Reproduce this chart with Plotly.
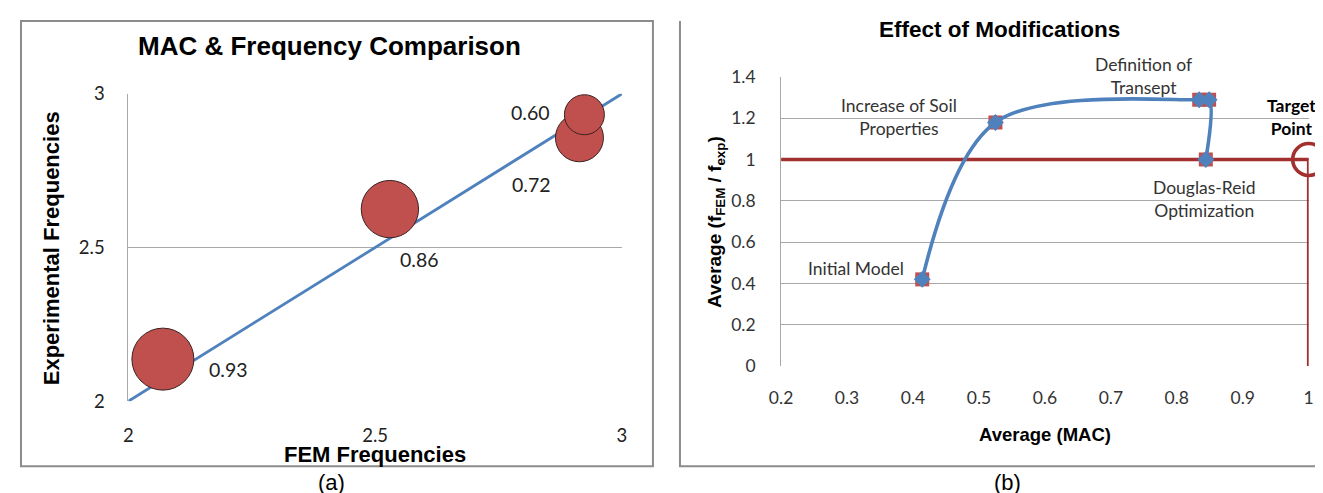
import plotly.graph_objects as go

# ---------------- data: chart (a) ----------------
fem_freq = [2.07, 2.53, 2.914, 2.924]
exp_freq = [2.137, 2.625, 2.857, 2.932]
mac_values = [0.93, 0.86, 0.72, 0.60]
mac_labels = ["0.93", "0.86", "0.72", "0.60"]
diag_x = [2, 3]
diag_y = [2, 3]
a_ticks = [2, 2.5, 3]
a_ticktext = ["2", "2.5", "3"]

# ---------------- data: chart (b) ----------------
avg_mac = [0.414, 0.525, 0.834, 0.849, 0.844]
avg_ratio = [0.42, 1.179, 1.289, 1.289, 1.0]
target_mac = [1.0]
target_ratio = [1.0]
ref_x = [0.2, 1.0, 1.0]
ref_y = [1.0, 1.0, 0.0]
b_xticks = [0.2, 0.3, 0.4, 0.5, 0.6, 0.7, 0.8, 0.9, 1.0]
b_xticktext = ["0.2", "0.3", "0.4", "0.5", "0.6", "0.7", "0.8", "0.9", "1"]
b_yticks = [0, 0.2, 0.4, 0.6, 0.8, 1.0, 1.2, 1.4]
b_yticktext = ["0", "0.2", "0.4", "0.6", "0.8", "1", "1.2", "1.4"]
stage_text = ["Initial Model", "Increase of Soil<br>Properties", "Definition of<br>Transept",
              "Douglas-Reid<br>Optimization", "<b>Target<br>Point</b>"]

W, H = 1323, 493
# page placement correction (measured): shown = offset + scale * figure pixel
SX, OX = 0.986, 19.8
SY, OY = 0.954, 19.3


def px(X):
    return ((X - OX) / SX) / W


def py(Y):
    return 1 - ((Y - OY) / SY) / H


# label placement (reference pixels)
stage_px = [(855, 267), (897.6, 116.5), (1142, 75.5), (1202.5, 198), (1290, 116.5)]

LABEL_FONT = "Lato, Open Sans, sans-serif"
BOLD_FONT = "Liberation Sans, Arial, sans-serif"
GRID = "#a8a8a8"
RED = "#C0504D"
DARKRED = "#A1302E"
BLUE = "#4F81BD"
FRAME = "#8c8c8c"

fig = go.Figure()

# ---- chart (a) ----
fig.add_trace(go.Scatter(x=diag_x, y=diag_y, mode="lines",
                         line=dict(color=BLUE, width=2.8),
                         xaxis="x", yaxis="y", showlegend=False, hoverinfo="skip",
                         cliponaxis=False))
fig.add_trace(go.Scatter(x=fem_freq, y=exp_freq, mode="markers",
                         marker=dict(size=mac_values, sizemode="diameter", sizeref=0.93 / 62,
                                     color=RED, opacity=1,
                                     line=dict(color="#3b2222", width=1)),
                         xaxis="x", yaxis="y", showlegend=False, cliponaxis=False))

# ---- chart (b) ----
fig.add_trace(go.Scatter(x=ref_x, y=ref_y, mode="lines",
                         line=dict(color=DARKRED, width=3.6),
                         xaxis="x2", yaxis="y2", showlegend=False, cliponaxis=False))
fig.add_trace(go.Scatter(x=target_mac, y=target_ratio, mode="markers",
                         marker=dict(symbol="circle-open", size=32,
                                     line=dict(color=DARKRED, width=3.6), color=DARKRED),
                         xaxis="x2", yaxis="y2", showlegend=False, cliponaxis=False))
fig.add_trace(go.Scatter(x=avg_mac, y=avg_ratio, mode="markers",
                         marker=dict(symbol="square", size=14, color=RED),
                         xaxis="x2", yaxis="y2", showlegend=False, cliponaxis=False))
fig.add_trace(go.Scatter(x=avg_mac, y=avg_ratio, mode="lines+markers",
                         line=dict(color=BLUE, width=3.6, shape="spline", smoothing=1.0),
                         marker=dict(symbol="diamond", size=13, color=BLUE),
                         xaxis="x2", yaxis="y2", showlegend=False, cliponaxis=False))

axis_common = dict(zeroline=False, ticks="", fixedrange=True)

fig.update_layout(
    width=W, height=H,
    margin=dict(l=0, r=0, t=0, b=0),
    paper_bgcolor="white", plot_bgcolor="white",
    showlegend=False,
    xaxis=dict(domain=[px(128), px(621)], range=[2, 3], tickvals=a_ticks, ticktext=a_ticktext,
               showgrid=False, showline=False, anchor="y",
               tickfont=dict(family=LABEL_FONT, size=18.5, color="#222"),
               ticklabelstandoff=21, **axis_common),
    yaxis=dict(domain=[py(400), py(93)], range=[2, 3], tickvals=a_ticks, ticktext=a_ticktext,
               showgrid=True, gridcolor=GRID, gridwidth=1,
               showline=True, linecolor=GRID, linewidth=1, anchor="x",
               tickfont=dict(family=LABEL_FONT, size=18.5, color="#222"),
               ticklabelstandoff=19, **axis_common),
    xaxis2=dict(domain=[px(780), px(1307)], range=[0.2, 1.0], tickvals=b_xticks,
                ticktext=b_xticktext, showgrid=False, showline=False, anchor="y2",
                tickfont=dict(family=LABEL_FONT, size=17.5, color="#333"),
                ticklabelstandoff=19, **axis_common),
    yaxis2=dict(domain=[py(365), py(76)], range=[0, 1.4], tickvals=b_yticks,
                ticktext=b_yticktext, showgrid=True, gridcolor=GRID, gridwidth=1,
                showline=True, linecolor=GRID, linewidth=1, anchor="x2",
                tickfont=dict(family=LABEL_FONT, size=17.5, color="#333"),
                ticklabelstandoff=21, **axis_common),
)

# frames
fx0, fx1 = max(px(8), 1 / W), px(652)
fy0, fy1 = py(465), min(py(12), 1 - 1 / H)
fig.add_shape(type="rect", xref="paper", yref="paper", x0=fx0, x1=fx1, y0=fy0, y1=fy1,
              line=dict(color=FRAME, width=2), layer="below")
gx0 = px(679)
fig.add_shape(type="path", xref="paper", yref="paper",
              path=f"M {gx0},{fy1} L {gx0},{fy0} L 1.02,{fy0}",
              line=dict(color=FRAME, width=2), layer="below")

ann = []
# titles
ann.append(dict(text="<b>MAC & Frequency Comparison</b>", x=px(329), y=py(45), xref="paper", yref="paper",
                showarrow=False, font=dict(family=BOLD_FONT, size=26, color="black"),
                xanchor="center", yanchor="middle"))
ann.append(dict(text="<b>Experimental Frequencies</b>", x=px(51), y=py(247), xref="paper", yref="paper",
                showarrow=False, textangle=-90, font=dict(family=BOLD_FONT, size=22, color="black"),
                xanchor="center", yanchor="middle"))
ann.append(dict(text="<b>FEM Frequencies</b>", x=px(374), y=py(453), xref="paper", yref="paper",
                showarrow=False, font=dict(family=BOLD_FONT, size=22, color="black"),
                xanchor="center", yanchor="middle"))
ann.append(dict(text="<b>Effect of Modifications</b>", x=px(998), y=py(29), xref="paper", yref="paper",
                showarrow=False, font=dict(family=BOLD_FONT, size=22.5, color="black"),
                xanchor="center", yanchor="middle"))
ann.append(dict(text="<b>Average (MAC)</b>", x=px(1044), y=py(433), xref="paper", yref="paper",
                showarrow=False, font=dict(family=BOLD_FONT, size=18.5, color="black"),
                xanchor="center", yanchor="middle"))
ann.append(dict(text="<b>Average (f<sub>FEM</sub> / f<sub>exp</sub>)</b>", x=px(715), y=py(221),
                xref="paper", yref="paper", showarrow=False, textangle=-90,
                font=dict(family=BOLD_FONT, size=19, color="black"),
                xanchor="center", yanchor="middle"))
# captions
ann.append(dict(text="(a)", x=px(331), y=py(481), xref="paper", yref="paper", showarrow=False,
                font=dict(family="Liberation Sans, Arial", size=22, color="black"),
                xanchor="center", yanchor="middle"))
ann.append(dict(text="(b)", x=px(1006), y=py(481), xref="paper", yref="paper", showarrow=False,
                font=dict(family="Liberation Sans, Arial", size=22, color="black"),
                xanchor="center", yanchor="middle"))

# bubble labels (a)
label_shift = [(66, -10), (30, -50), (-48, -47), (-54, 2)]
for xv, yv, t, (dx, dy) in zip(fem_freq, exp_freq, mac_labels, label_shift):
    ann.append(dict(text=t, x=xv, y=yv, xref="x", yref="y", showarrow=False,
                    xshift=dx, yshift=dy, font=dict(family=LABEL_FONT, size=19.5, color="#222"),
                    xanchor="center", yanchor="middle"))

# stage labels (b)
for t, (X, Y) in zip(stage_text, stage_px):
    ann.append(dict(text=t, x=px(X), y=py(Y), xref="paper", yref="paper", showarrow=False,
                    font=dict(family=LABEL_FONT, size=17.5,
                              color="black" if t.startswith("<b>") else "#333"),
                    xanchor="center", yanchor="middle"))

fig.update_layout(annotations=ann)

fig.write_html("out.html")
